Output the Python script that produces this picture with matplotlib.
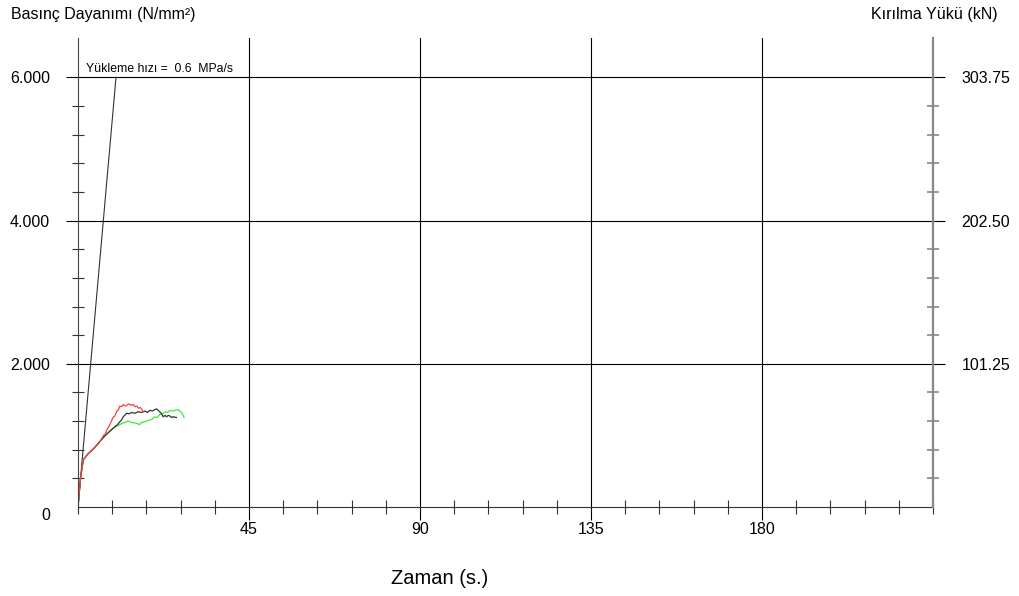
import numpy as np
import matplotlib.pyplot as plt
from matplotlib.ticker import MultipleLocator

plt.rcParams['font.family'] = ['Liberation Sans', 'DejaVu Sans']

# time (s) / strength (N/mm2)
red_t = [0, 0.7, 1.4, 2.6, 4.2, 5.5, 6.2, 6.7, 7.2, 7.6, 8.4, 9.2, 9.7, 10.2, 10.6, 11.0, 11.5, 11.9, 12.4, 12.8, 13.3, 14.1, 14.6, 15.0, 15.5, 15.9, 16.4, 16.8, 17.2]
red_s = [0, 0.42, 0.66, 0.74, 0.82, 0.89, 0.95, 1.00, 1.02, 1.08, 1.15, 1.25, 1.27, 1.34, 1.35, 1.41, 1.40, 1.43, 1.41, 1.42, 1.44, 1.42, 1.43, 1.40, 1.41, 1.38, 1.39, 1.36, 1.33]

black_t = [0, 0.7, 1.4, 2.6, 4.2, 5.5, 7.0, 8.4, 9.7, 10.4, 11.0, 11.5, 11.9, 12.8, 13.4, 14.1, 15.0, 15.8, 16.7, 17.6, 18.3, 18.9, 19.6, 20.2, 20.7, 21.1, 21.5, 21.9, 22.4, 22.9, 23.3, 23.8, 24.2, 24.6, 25.0, 25.9]
black_s = [0, 0.42, 0.66, 0.74, 0.82, 0.90, 0.99, 1.06, 1.12, 1.15, 1.19, 1.22, 1.26, 1.31, 1.30, 1.32, 1.31, 1.33, 1.32, 1.34, 1.32, 1.35, 1.34, 1.36, 1.37, 1.35, 1.33, 1.31, 1.26, 1.28, 1.26, 1.28, 1.27, 1.25, 1.26, 1.25]

green_t = [0, 0.7, 1.4, 2.6, 4.2, 5.5, 7.0, 8.4, 9.7, 11.0, 11.7, 12.3, 13.2, 13.7, 14.1, 15.4, 16.2, 16.7, 17.6, 18.5, 19.3, 20.2, 20.8, 21.5, 22.2, 22.9, 23.6, 24.2, 24.9, 25.5, 26.2, 26.8, 27.4, 27.9]
green_s = [0, 0.42, 0.66, 0.74, 0.82, 0.90, 0.99, 1.06, 1.12, 1.15, 1.17, 1.18, 1.20, 1.19, 1.18, 1.17, 1.15, 1.18, 1.19, 1.21, 1.22, 1.26, 1.25, 1.29, 1.30, 1.33, 1.32, 1.35, 1.34, 1.35, 1.36, 1.34, 1.31, 1.25]

# loading rate reference line 0.6 MPa/s
rate_t = [0, 10]
rate_s = [0, 6]

x_ticks = [45, 90, 135, 180]
y_ticks = [2, 4, 6]
y_labels = ['2.000', '4.000', '6.000']
kn_labels = ['101.25', '202.50', '303.75']

fig = plt.figure(figsize=(10.19, 5.96), dpi=100)
ax = fig.add_axes([78/1019, 1-507/596, (933-78)/1019, (507-38)/596])

ax.plot(rate_t, rate_s, color='#333333', lw=0.8)
ax.plot(green_t, green_s, color='#33ee33', lw=0.9)
ax.plot(black_t, black_s, color='#333333', lw=0.9)
ax.plot(red_t, red_s, color='#ff4040', lw=0.9)

ax.set_xlim(0, 225)
ax.set_ylim(0, 6.55)

ax.set_xticks(x_ticks)
ax.set_xticklabels([str(v) for v in x_ticks], fontsize=11.5)
ax.xaxis.set_minor_locator(MultipleLocator(9))
ax.set_yticks(y_ticks)
ax.set_yticklabels(y_labels, fontsize=11.5)
ax.set_yticks([v for v in np.arange(0.4, 6.0, 0.4) if abs(v/2 - round(v/2)) > 0.01], minor=True)

ax.grid(True, which='major', color='black', lw=0.8)
ax.tick_params(axis='x', which='major', direction='out', length=9.5, width=0.8, pad=1)
ax.tick_params(axis='x', which='minor', direction='inout', length=10, width=0.8, color='#333333')
ax.tick_params(axis='y', which='major', direction='out', length=8.6, width=0.8, pad=11.5)
ax.tick_params(axis='y', which='minor', direction='inout', length=8.6, width=0.8, color='#333333')

ax.spines['top'].set_visible(False)
ax.spines['left'].set_color('#444444')
ax.spines['bottom'].set_color('#333333')
ax.spines['right'].set_visible(False)

ax2 = ax.twinx()
ax2.set_ylim(ax.get_ylim())
ax2.set_yticks(y_ticks)
ax2.set_yticklabels(kn_labels, fontsize=11.5)
ax2.set_yticks(ax.get_yticks(minor=True), minor=True)
ax2.tick_params(axis='y', which='major', direction='out', length=8.6, width=0.8, pad=12, color='black')
ax2.tick_params(axis='y', which='minor', direction='inout', length=8.6, width=1.2, color='#888888')
for s in ['top', 'left', 'bottom']:
    ax2.spines[s].set_visible(False)
ax2.spines['right'].set_color('#888888')
ax2.spines['right'].set_linewidth(1.6)

ax.annotate('0', xy=(0, 0), xycoords='data', xytext=(-28, -8), textcoords='offset pixels',
            ha='right', va='center', fontsize=11.5)
ax.text(2.1, 6.03, 'Yükleme hızı =  0.6  MPa/s', fontsize=8.8, ha='left', va='bottom')

fig.text(11/1019, 1-15/596, 'Basınç Dayanımı (N/mm²)', fontsize=11.5, ha='left', va='center')
fig.text(934/1019, 1-15/596, 'Kırılma Yükü (kN)', fontsize=11.5, ha='center', va='center')
fig.text(440/1019, 1-578/596, 'Zaman (s.)', fontsize=14.5, ha='center', va='center')

fig.savefig('out.png', dpi=100)
